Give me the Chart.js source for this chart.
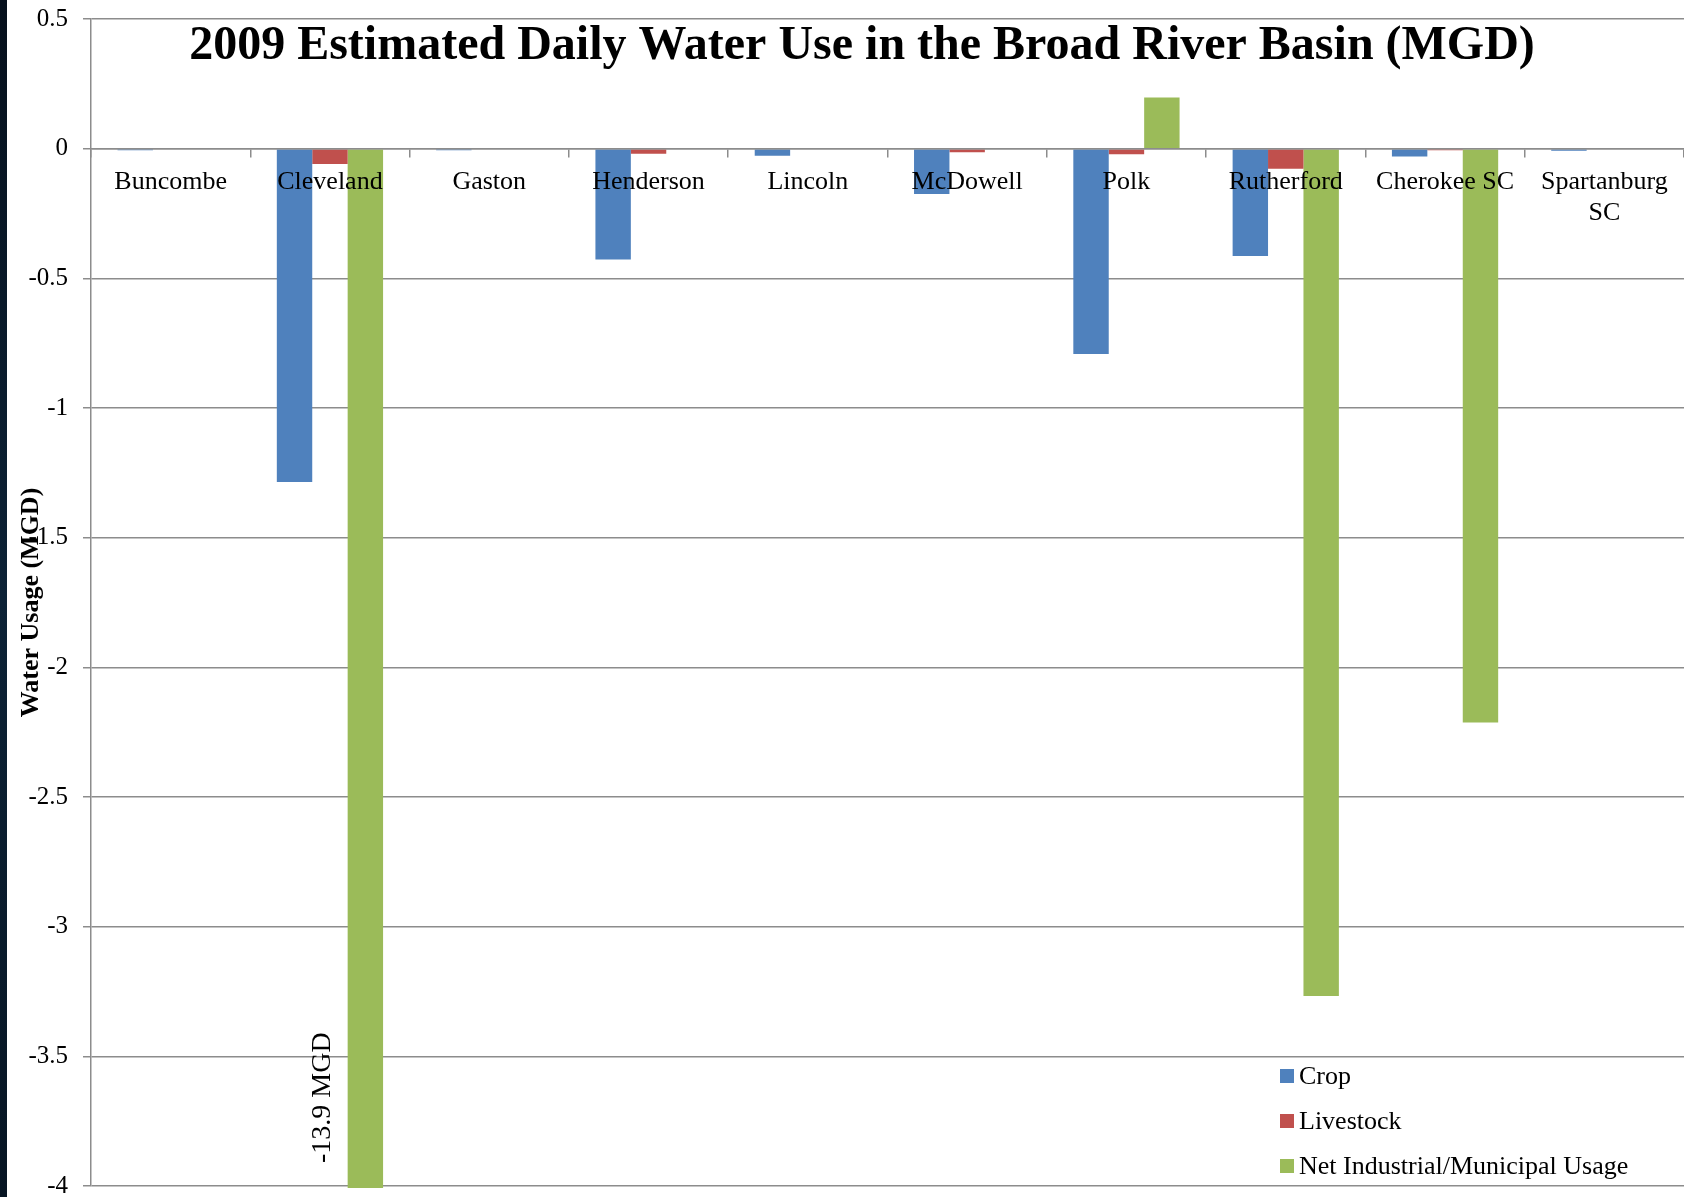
<!DOCTYPE html>
<html>
<head>
<meta charset="utf-8">
<script src="https://cdn.jsdelivr.net/npm/chart.js@4.4.1/dist/chart.umd.min.js"></script>
<style>
  html, body { margin: 0; padding: 0; background: #ffffff; }
  #wrap { position: relative; width: 1684px; height: 1197px; }
  canvas { display: block; }
</style>
</head>
<body>
<div id="wrap"><canvas id="c" width="1684" height="1197"></canvas></div>
<script>
// ---- Data ----
const chartTitle = '2009 Estimated Daily Water Use in the Broad River Basin (MGD)';
const yAxisTitle = 'Water Usage (MGD)';
const categories = ['Buncombe', 'Cleveland', 'Gaston', 'Henderson', 'Lincoln', 'McDowell', 'Polk', 'Rutherford', 'Cherokee SC', ['Spartanburg', 'SC']];
const seriesNames = ['Crop', 'Livestock', 'Net Industrial/Municipal Usage'];
const crop      = [-0.006, -1.285, -0.006, -0.427, -0.027, -0.175, -0.792, -0.414, -0.030, -0.008];
const livestock = [0, -0.059, 0, -0.020, 0, -0.014, -0.022, -0.077, -0.006, 0];
const netUsage  = [0, -13.9, 0, 0, 0, 0, 0.197, -3.267, -2.213, 0];
const yMin = -4, yMax = 0.5, yStep = 0.5;
const noteText = '-13.9 MGD';   // label for the clipped Cleveland bar
const noteSeries = 2, noteIndex = 1;

// ---- Style ----
const colors = ['#4f81bd', '#c0504d', '#9bbb59'];
const serif = '"Liberation Serif", "Times New Roman", serif';
const gridColor = '#8c8c8c';

const overlayPlugin = {
  id: 'overlay',
  beforeDraw(chart) {
    const ctx = chart.ctx;
    ctx.save();
    ctx.fillStyle = '#ffffff';
    ctx.fillRect(0, 0, chart.width, chart.height);
    // dark slide edge on the left
    const g = ctx.createLinearGradient(0, 0, 0, chart.height);
    g.addColorStop(0, '#06101c');
    g.addColorStop(0.5, '#0c2236');
    g.addColorStop(1, '#071523');
    ctx.fillStyle = g;
    ctx.fillRect(0, 0, 7, chart.height);
    ctx.restore();
  },
  afterDraw(chart) {
    const ctx = chart.ctx;
    const area = chart.chartArea;
    ctx.save();
    // title
    ctx.fillStyle = '#000000';
    ctx.font = 'bold 48px ' + serif;
    ctx.textAlign = 'center';
    ctx.textBaseline = 'alphabetic';
    ctx.fillText(chartTitle, 862, 59);

    // note for clipped bar
    const bar = chart.getDatasetMeta(noteSeries).data[noteIndex];
    if (bar) {
      const left = bar.x - bar.width / 2;
      ctx.save();
      ctx.translate(left - 25, area.bottom - 23);
      ctx.rotate(-Math.PI / 2);
      ctx.font = '28px ' + serif;
      ctx.textAlign = 'left';
      ctx.textBaseline = 'middle';
      ctx.fillText(noteText, 0, 0);
      ctx.restore();
    }

    // legend
    const lx = area.right - 404;
    const rows = [area.bottom - 110, area.bottom - 65, area.bottom - 20];
    ctx.font = '26px ' + serif;
    ctx.textAlign = 'left';
    ctx.textBaseline = 'middle';
    chart.data.datasets.forEach((ds, i) => {
      ctx.fillStyle = ds.backgroundColor;
      ctx.fillRect(lx, rows[i] - 7, 14, 14);
      ctx.fillStyle = '#000000';
      ctx.fillText(ds.label, lx + 19, rows[i] + 1);
    });
    ctx.restore();
  }
};

const datasets = [crop, livestock, netUsage].map((vals, i) => ({
  label: seriesNames[i],
  data: vals,
  backgroundColor: colors[i],
  borderWidth: 0,
  categoryPercentage: 0.667,
  barPercentage: 1.0,
  clip: {left: 0, top: 0, right: 0, bottom: 2}
}));

new Chart(document.getElementById('c'), {
  type: 'bar',
  data: { labels: categories, datasets },
  options: {
    responsive: false,
    devicePixelRatio: 1,
    animation: false,
    layout: { padding: { top: 19, bottom: 11, left: 0, right: 0 } },
    plugins: {
      legend: { display: false },
      title: { display: false },
      tooltip: { enabled: false }
    },
    scales: {
      x: {
        position: { y: 0 },
        z: 1,
        grid: { display: true, drawOnChartArea: false, drawTicks: true, tickLength: 8, color: gridColor, lineWidth: 1.5, offset: true, z: 1 },
        border: { display: true, color: gridColor, width: 1.5, z: 1 },
        ticks: { z: 1, color: '#000000', font: { family: serif, size: 26, lineHeight: 1.2 }, padding: 10, maxRotation: 0, minRotation: 0, autoSkip: false }
      },
      y: {
        min: yMin, max: yMax,
        grid: { color: gridColor, lineWidth: 1.5, tickLength: 8, drawTicks: true },
        border: { display: true, color: gridColor, width: 1.5 },
        ticks: {
          stepSize: yStep, color: '#000000', font: { family: serif, size: 25 }, padding: 15,
          callback: (v) => String(Math.round(v * 10) / 10)
        },
        title: { display: true, text: yAxisTitle, color: '#000000', font: { family: serif, size: 26, weight: 'bold' }, padding: { top: 16, bottom: 0 } },
        afterFit(scale) {
          scale.width = 91;
          scale.paddingTop = 0;
          scale.paddingBottom = 0;
        }
      }
    }
  },
  plugins: [overlayPlugin]
});
</script>
</body>
</html>
